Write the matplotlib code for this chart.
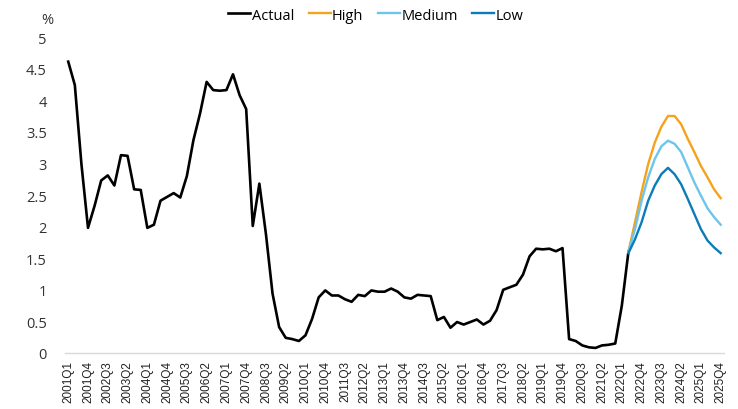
import matplotlib
matplotlib.use("Agg")
import matplotlib.pyplot as plt

# quarters 2001Q1 .. 2025Q4
quarters = [f"{y}Q{q}" for y in range(2001, 2026) for q in range(1, 5)]

actual = [4.61, 4.24, 2.99, 1.98, 2.33, 2.73, 2.81, 2.65, 3.13, 3.12,
          2.59, 2.58, 1.98, 2.03, 2.41, 2.47, 2.53, 2.46, 2.80, 3.37,
          3.79, 4.29, 4.16, 4.15, 4.16, 4.41, 4.08, 3.86, 2.01, 2.68,
          1.88, 0.94, 0.41, 0.24, 0.22, 0.19, 0.28, 0.54, 0.88, 0.99,
          0.91, 0.91, 0.85, 0.81, 0.92, 0.90, 0.99, 0.97, 0.97, 1.02,
          0.97, 0.88, 0.86, 0.92, 0.91, 0.90, 0.52, 0.57, 0.40, 0.49,
          0.45, 0.49, 0.53, 0.45, 0.51, 0.68, 1.00, 1.04, 1.08, 1.24,
          1.53, 1.65, 1.64, 1.65, 1.61, 1.66, 0.22, 0.19, 0.12, 0.09,
          0.08, 0.12, 0.13, 0.15, 0.75, 1.60]

# forecasts start at 2022Q2 (last actual point)
high = [1.60, 2.07, 2.55, 2.99, 3.33, 3.58, 3.75, 3.75, 3.62, 3.39,
        3.18, 2.96, 2.78, 2.59, 2.45]
medium = [1.60, 1.96, 2.41, 2.78, 3.07, 3.27, 3.36, 3.31, 3.18, 2.94,
          2.70, 2.49, 2.29, 2.15, 2.03]
low = [1.58, 1.80, 2.07, 2.41, 2.65, 2.83, 2.93, 2.83, 2.67, 2.44,
       2.20, 1.96, 1.78, 1.67, 1.58]

x_act = list(range(len(actual)))
x_fc = list(range(len(actual) - 1, len(actual) - 1 + len(high)))

plt.rcParams['font.family'] = ['Open Sans', 'DejaVu Sans']

fig = plt.figure(figsize=(7.38, 4.10), dpi=100)
ax = fig.add_axes([0.088, 0.1366, 0.893, 0.7707])

ax.plot(x_act, actual, color='black', lw=1.9, label='Actual')
ax.plot(x_fc, high, color='#F5A21C', lw=1.7, label='High')
ax.plot(x_fc, medium, color='#6DC5EB', lw=1.7, label='Medium')
ax.plot(x_fc, low, color='#0B7CB8', lw=1.7, label='Low')

ax.set_xlim(-0.5, len(quarters) - 0.5)
ax.set_ylim(0, 5)
ax.set_yticks([0, 0.5, 1, 1.5, 2, 2.5, 3, 3.5, 4, 4.5, 5])
ax.set_yticklabels(['0', '0.5', '1', '1.5', '2', '2.5', '3', '3.5', '4', '4.5', '5'])
ax.set_xticks(range(0, len(quarters), 3))
ax.set_xticklabels(quarters[::3], rotation=90, fontsize=8.5,
                   family='Liberation Sans', color='#222222')

ax.tick_params(axis='y', length=0, pad=13, labelsize=10.5, labelcolor='#333333')
ax.tick_params(axis='x', length=0, pad=5)
for s in ['top', 'right', 'left']:
    ax.spines[s].set_visible(False)
ax.spines['bottom'].set_color('#d9d9d9')
ax.spines['bottom'].set_linewidth(1.0)

fig.text(47 / 738, 1 - 20 / 410, '%', fontsize=10.5, color='#333333',
         ha='center', va='center')

fig.legend(loc='center', bbox_to_anchor=(376 / 738, 1 - 16 / 410), ncol=4,
           frameon=False, fontsize=10.5, handlelength=1.5, handletextpad=0.1,
           columnspacing=1.0, borderaxespad=0)

fig.savefig('out.png', dpi=100)
